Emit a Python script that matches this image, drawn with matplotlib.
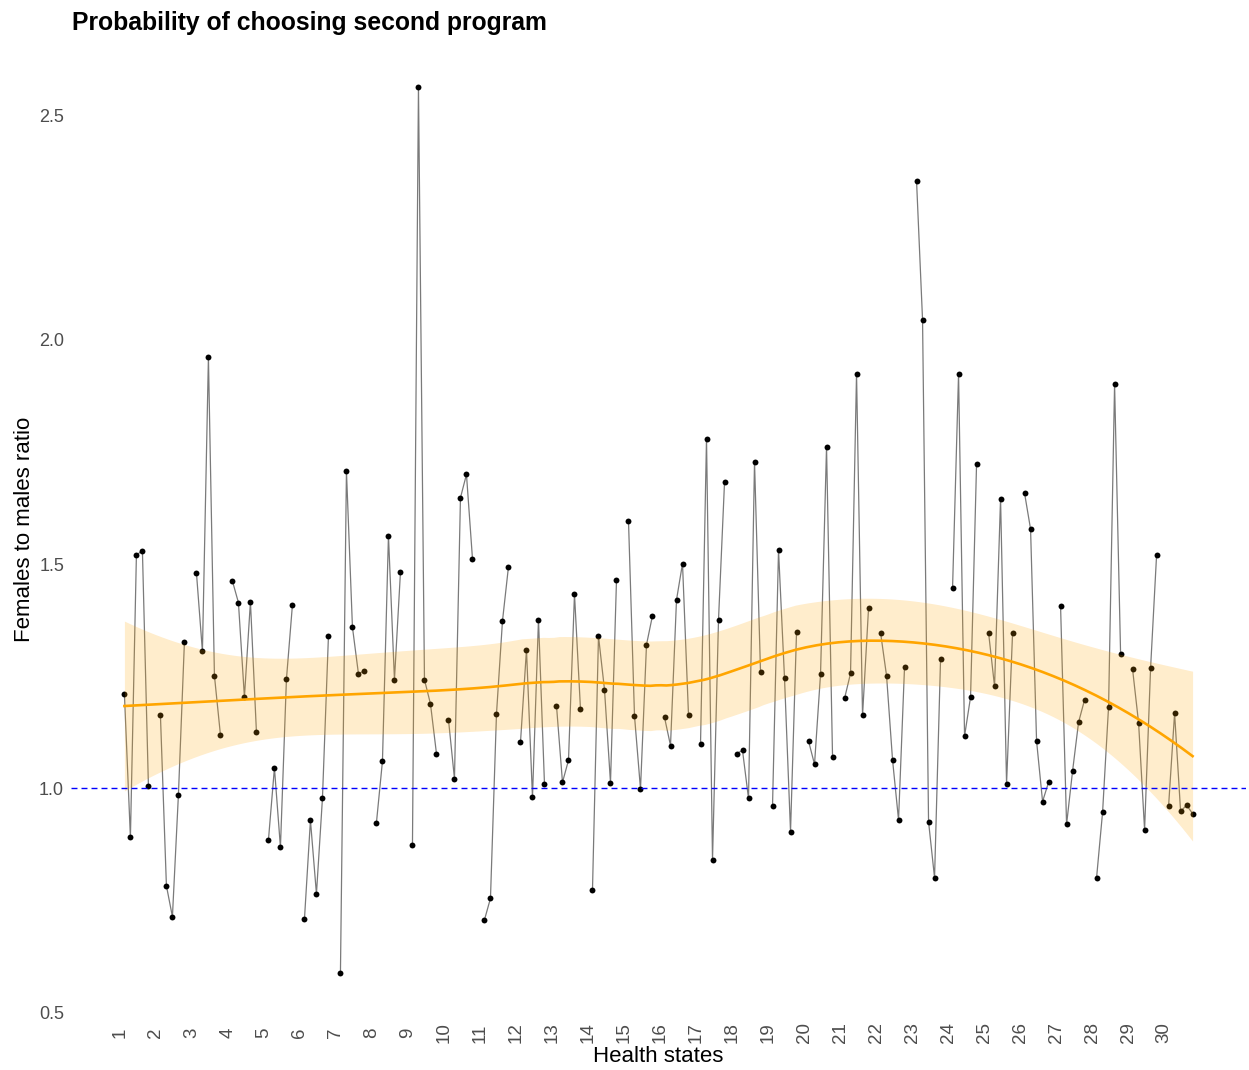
import numpy as np
import matplotlib
matplotlib.use("Agg")
import matplotlib.pyplot as plt

# ratio of females to males, 5 values per health state
states = list(range(1, 31))
ratios = [
    [1.21, 0.89, 1.52, 1.53, 1.005],
    [1.163, 0.782, 0.713, 0.985, 1.326],
    [1.481, 1.305, 1.961, 1.251, 1.119],
    [1.462, 1.414, 1.203, 1.416, 1.125],
    [0.884, 1.045, 0.868, 1.243, 1.409],
    [0.707, 0.928, 0.764, 0.977, 1.339],
    [0.588, 1.707, 1.359, 1.255, 1.262],
    [0.923, 1.06, 1.563, 1.242, 1.482],
    [0.872, 2.565, 1.242, 1.188, 1.077],
    [1.153, 1.021, 1.648, 1.70, 1.512],
    [0.706, 0.754, 1.165, 1.373, 1.494],
    [1.102, 1.309, 0.98, 1.376, 1.009],
    [1.184, 1.013, 1.062, 1.433, 1.176],
    [0.773, 1.339, 1.22, 1.012, 1.464],
    [1.596, 1.161, 0.998, 1.32, 1.385],
    [1.158, 1.095, 1.42, 1.501, 1.163],
    [1.098, 1.780, 0.840, 1.376, 1.682],
    [1.077, 1.084, 0.977, 1.728, 1.259],
    [0.96, 1.531, 1.245, 0.903, 1.348],
    [1.105, 1.053, 1.254, 1.761, 1.07],
    [1.200, 1.256, 1.925, 1.162, 1.401],
    [1.347, 1.251, 1.063, 0.929, 1.271],
    [2.355, 2.045, 0.925, 0.80, 1.288],
    [1.446, 1.924, 1.116, 1.203, 1.723],
    [1.347, 1.227, 1.646, 1.01, 1.346],
    [1.658, 1.578, 1.105, 0.97, 1.013],
    [1.406, 0.919, 1.038, 1.147, 1.197],
    [0.80, 0.946, 1.182, 1.901, 1.30],
    [1.265, 1.146, 0.907, 1.268, 1.52],
    [0.96, 1.167, 0.948, 0.962, 0.943],
]
y_ticks = [0.5, 1.0, 1.5, 2.0, 2.5]

n_per = len(ratios[0])
slot = n_per + 1  # one empty slot between health states


def loess_matrix(x, x_eval, span=0.75):
    # local quadratic fit with tricube weights, returns the smoother matrix
    n = len(x)
    q = int(np.floor(n * span))
    L = np.zeros((len(x_eval), n))
    for k, x0 in enumerate(x_eval):
        d = np.abs(x - x0)
        h = np.sort(d)[q - 1]
        w = np.clip(1 - (d / h) ** 3, 0, None) ** 3
        X = np.column_stack([np.ones(n), x - x0, (x - x0) ** 2])
        XtW = X.T * w
        L[k] = np.linalg.solve(XtW @ X, XtW)[0]
    return L


# positions of the points
xs, ys = [], []
for i, vals in enumerate(ratios):
    for j, v in enumerate(vals):
        xs.append(i * slot + j)
        ys.append(v)
xs = np.array(xs, dtype=float)
ys = np.array(ys)

# smooth + 95% band (like geom_smooth)
L_fit = loess_matrix(xs, xs)
resid = ys - L_fit @ ys
IL = np.eye(len(xs)) - L_fit
M = IL.T @ IL
one_delta = np.trace(M)
two_delta = np.trace(M @ M)
sigma = np.sqrt(np.sum(resid ** 2) / one_delta)
dof = one_delta ** 2 / two_delta
z = 1.959964
t_q = z + (z ** 3 + z) / (4 * dof) + (5 * z ** 5 + 16 * z ** 3 + 3 * z) / (96 * dof ** 2)

grid = np.linspace(xs.min(), xs.max(), 200)
L_grid = loess_matrix(xs, grid)
fit = L_grid @ ys
se = sigma * np.sqrt(np.sum(L_grid ** 2, axis=1))

plt.rcParams['font.family'] = ['Liberation Sans', 'DejaVu Sans']

fig = plt.figure(figsize=(12.49, 10.70), dpi=100)
ax = fig.add_axes([71 / 1249, 53 / 1070, 1175 / 1249, 974.5 / 1070])

for i, vals in enumerate(ratios):
    gx = [i * slot + j for j in range(len(vals))]
    ax.plot(gx, vals, color='#7a7a7a', linewidth=0.9, zorder=1)
ax.scatter(xs, ys, s=18, color='black', zorder=2, linewidths=0)

ax.fill_between(grid, fit - t_q * se, fit + t_q * se, color='orange', alpha=0.2,
                linewidth=0, zorder=3)
ax.plot(grid, fit, color='orange', linewidth=1.9, zorder=4)
ax.axhline(1.0, color='blue', linewidth=1.0, linestyle=(0, (4.3, 2.9)), zorder=5)

span_x = xs.max() - xs.min()
ax.set_xlim(xs.min() - 0.05 * span_x, xs.max() + 0.05 * span_x)
span_y = ys.max() - ys.min()
ax.set_ylim(ys.min() - 0.05 * span_y, ys.max() + 0.05 * span_y)

ax.set_xticks([i * slot - 0.75 for i in range(len(states))])
ax.set_xticklabels([str(s) for s in states], rotation=90, va='center', ha='center')
ax.set_yticks(y_ticks)
ax.set_yticklabels([f"{v:.1f}" for v in y_ticks])
ax.tick_params(axis='x', length=0, pad=11.5, labelsize=13.5, labelcolor='#4D4D4D')
ax.tick_params(axis='y', length=0, pad=5, labelsize=13, labelcolor='#4D4D4D')

for sp in ax.spines.values():
    sp.set_visible(False)

ax.set_xlabel("Health states", fontsize=16, labelpad=2)
ax.set_ylabel("Females to males ratio", fontsize=16, labelpad=3)
fig.text(72 / 1249, 1 - 23 / 1070, "Probability of choosing second program",
         fontsize=17.8, fontweight='bold', ha='left', va='center')

fig.savefig("out.png", dpi=100)
